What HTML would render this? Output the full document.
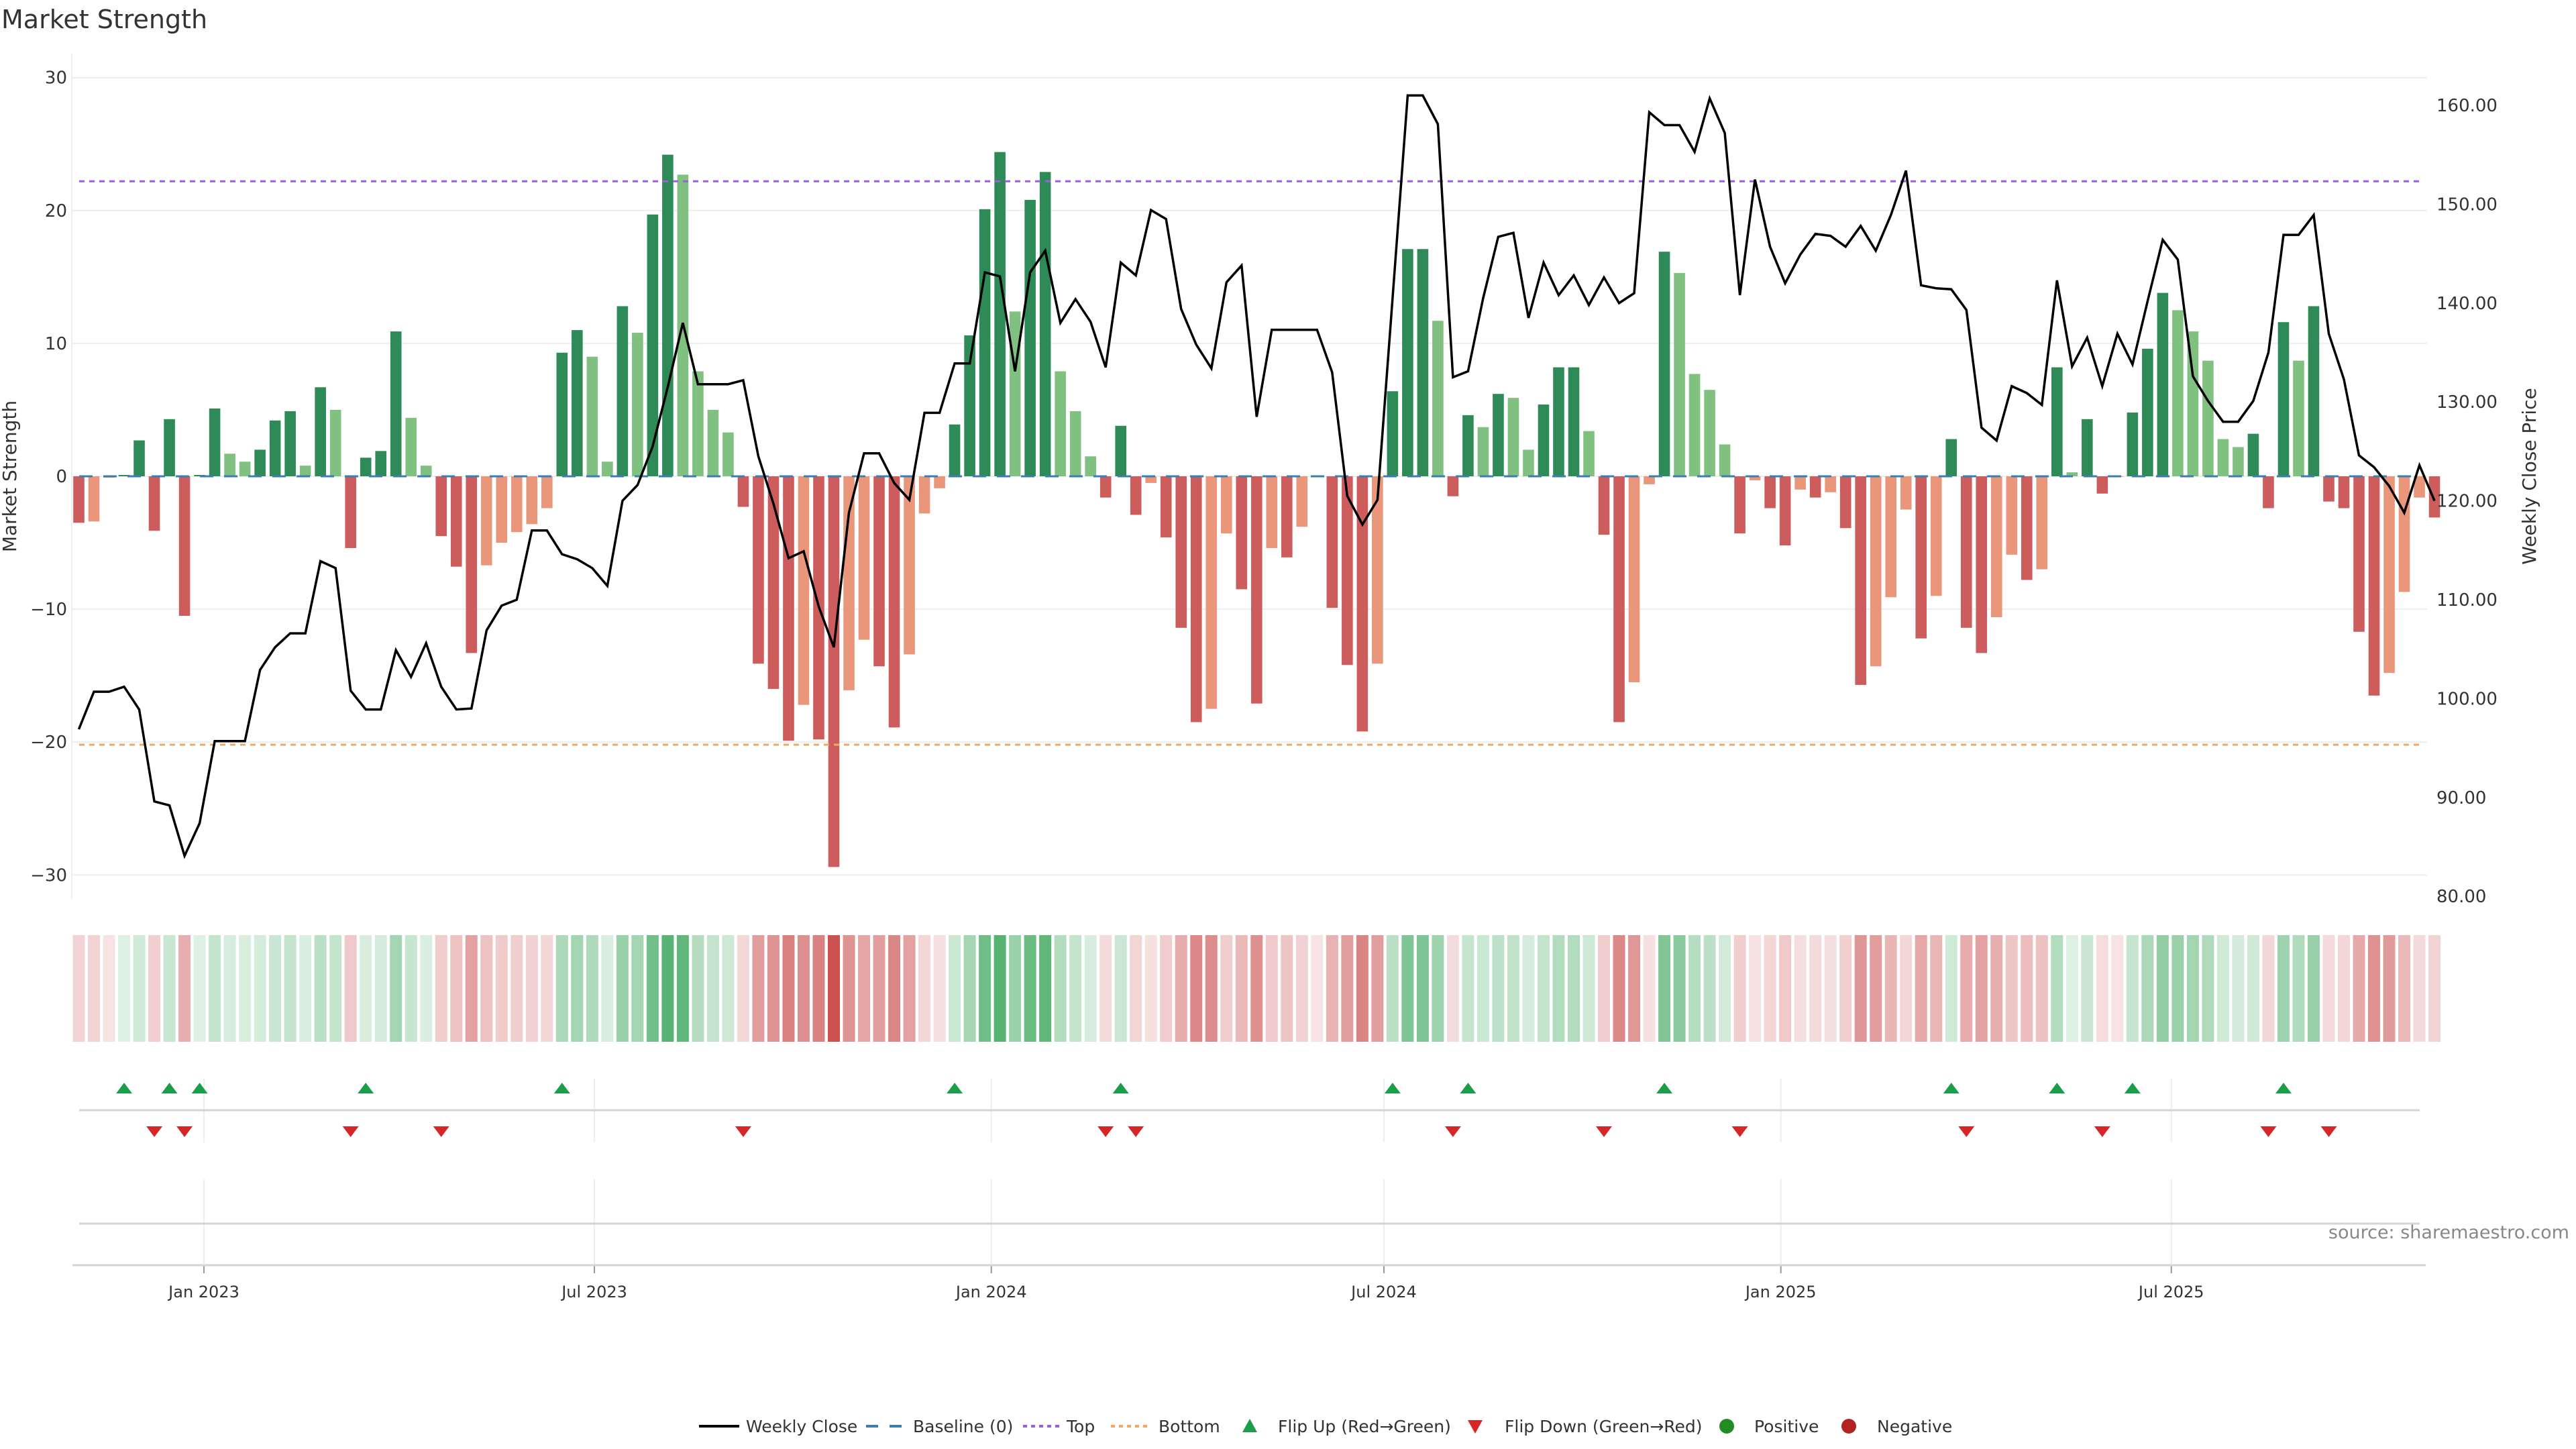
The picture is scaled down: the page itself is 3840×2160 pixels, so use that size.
<!DOCTYPE html>
<html><head><meta charset="utf-8"><title>Market Strength</title>
<style>html,body{margin:0;padding:0;background:#fff;}svg{display:block;font-family:"DejaVu Sans","Liberation Sans",sans-serif;}</style>
</head><body>
<svg id="chart" xmlns="http://www.w3.org/2000/svg" width="3840" height="2160" viewBox="0 0 3840 2160">
<rect width="3840" height="2160" fill="#fff"/>
<text x="2" y="42" font-size="38" fill="#333">Market Strength</text>
<g id="grid"></g><g id="heat"></g><g id="events"></g><g id="bars"></g><g id="lines"></g><g id="axes"></g>
<text transform="translate(24,710) rotate(-90)" text-anchor="middle" font-size="28" fill="#333">Market Strength</text>
<text transform="translate(3780,710) rotate(-90)" text-anchor="middle" font-size="28" fill="#333">Weekly Close Price</text>
<text x="3830" y="1846" text-anchor="end" font-size="27" fill="#888">source: sharemaestro.com</text>
<g id="legend"></g>
</svg>
<script>
const strength = [-3.5,-3.4,-0.1,0.1,2.7,-4.1,4.3,-10.5,0.1,5.1,1.7,1.1,2.0,4.2,4.9,0.8,6.7,5.0,-5.4,1.4,1.9,10.9,4.4,0.8,-4.5,-6.8,-13.3,-6.7,-5.0,-4.2,-3.6,-2.4,9.3,11.0,9.0,1.1,12.8,10.8,19.7,24.2,22.7,7.9,5.0,3.3,-2.3,-14.1,-16.0,-19.9,-17.2,-19.8,-29.4,-16.1,-12.3,-14.3,-18.9,-13.4,-2.8,-0.9,3.9,10.6,20.1,24.4,12.4,20.8,22.9,7.9,4.9,1.5,-1.6,3.8,-2.9,-0.5,-4.6,-11.4,-18.5,-17.5,-4.3,-8.5,-17.1,-5.4,-6.1,-3.8,-0.05,-9.9,-14.2,-19.2,-14.1,6.4,17.1,17.1,11.7,-1.5,4.6,3.7,6.2,5.9,2.0,5.4,8.2,8.2,3.4,-4.4,-18.5,-15.5,-0.6,16.9,15.3,7.7,6.5,2.4,-4.3,-0.3,-2.4,-5.2,-1.0,-1.6,-1.2,-3.9,-15.7,-14.3,-9.1,-2.5,-12.2,-9.0,2.8,-11.4,-13.3,-10.6,-5.9,-7.8,-7.0,8.2,0.3,4.3,-1.3,-0.05,4.8,9.6,13.8,12.5,10.9,8.7,2.8,2.2,3.2,-2.4,11.6,8.7,12.8,-1.9,-2.4,-11.7,-16.5,-14.8,-8.7,-1.6,-3.1];
const closes = [96.9,100.7,100.7,101.2,98.9,89.6,89.2,84.1,87.4,95.7,95.7,95.7,102.9,105.2,106.6,106.6,113.9,113.2,100.8,98.9,98.9,104.9,102.2,105.6,101.2,98.9,99.0,106.9,109.4,110.0,117.0,117.0,114.6,114.1,113.2,111.4,120.0,121.6,125.5,131.5,138.0,131.8,131.8,131.8,132.2,124.5,119.7,114.2,114.9,109.3,105.2,118.8,124.8,124.8,121.8,120.1,128.9,128.9,133.9,133.9,143.1,142.7,133.1,143.1,145.3,138.0,140.4,138.1,133.5,144.1,142.8,149.4,148.5,139.4,135.8,133.4,142.1,143.8,128.5,137.3,137.3,137.3,137.3,133.0,120.5,117.6,120.1,140.5,161.0,161.0,158.1,132.5,133.1,140.5,146.7,147.1,138.5,144.1,140.8,142.8,139.8,142.6,140.0,141.0,159.3,158.0,158.0,155.3,160.7,157.2,140.8,152.5,145.7,142.0,144.9,147.0,146.8,145.7,147.8,145.3,148.9,153.4,141.8,141.5,141.4,139.3,127.4,126.1,131.6,130.9,129.7,142.3,133.6,136.5,131.6,136.9,133.8,140.2,146.4,144.4,132.6,130.1,128.0,128.0,130.1,135.0,146.9,146.9,148.9,136.9,132.3,124.6,123.4,121.5,118.8,123.6,120.0];
const leftTicks = [30,20,10,0,-10,-20,-30];
const rightTicks = [160,150,140,130,120,110,100,90,80];
const topLevel = 22.2;
const bottomLevel = -20.2;
const monthLabels = ["Jan 2023","Jul 2023","Jan 2024","Jul 2024","Jan 2025","Jul 2025"];
const monthDates = ["2023-01-01","2023-07-01","2024-01-01","2024-07-01","2025-01-01","2025-07-01"];
const startDate = "2022-11-04";

const NS="http://www.w3.org/2000/svg";
function mk(tag,attrs,parent){const e=document.createElementNS(NS,tag);for(const k in attrs)e.setAttribute(k,attrs[k]);parent.appendChild(e);return e;}
const X0=117.5, STEP=22.51, PL=107, PR=3618;
const xb=i=>X0+i*STEP;
const yL=v=>710-v*19.81;
const yR=p=>157+(160-p)*14.74;
const d0=new Date(startDate+"T00:00:00Z");
const xd=s=>X0+((new Date(s+"T00:00:00Z")-d0)/86400000)/7*STEP;

const gridG=document.getElementById('grid');
leftTicks.forEach(t=>{const l=mk('line',{x1:PL,x2:PR,y1:yL(t),y2:yL(t),stroke:'#eceef0','stroke-width':2},gridG);

});
const axesG=document.getElementById('axes');
const la=mk('line',{x1:PL,x2:PL,y1:80,y2:1340,stroke:'#eceef0','stroke-width':2},axesG);


leftTicks.forEach(t=>{const tx=mk('text',{x:100,y:yL(t)+9,'text-anchor':'end','font-size':26,fill:'#333'},axesG);tx.textContent=t<0?'\u2212'+Math.abs(t):String(t);

});
rightTicks.forEach(t=>{const tx=mk('text',{x:3632,y:yR(t)+9,'font-size':26,fill:'#333'},axesG);tx.textContent=t.toFixed(2);

});

const heatG=document.getElementById('heat');
strength.forEach((v,i)=>{const a=Math.min(1,0.15+0.8*Math.abs(v)/30);
const c=v>0?`rgba(46,160,80,${a})`:`rgba(200,70,70,${a})`;
const r=mk('rect',{x:xb(i)-9,y:1394,width:18,height:159,fill:c},heatG);

});

const evG=document.getElementById('events');
monthDates.forEach((d,k)=>{const x=xd(d);
const g1=mk('line',{x1:x,x2:x,y1:1608,y2:1703,stroke:'#eceef0','stroke-width':2},evG);


const g2=mk('line',{x1:x,x2:x,y1:1758,y2:1886,stroke:'#eceef0','stroke-width':2},evG);


const tk=mk('line',{x1:x,x2:x,y1:1886,y2:1898,stroke:'#999','stroke-width':2},evG);


const tl=mk('text',{x:x,y:1934,'text-anchor':'middle','font-size':24,fill:'#333'},evG);tl.textContent=monthLabels[k];

});
const e1=mk('line',{x1:118,x2:3607,y1:1655,y2:1655,stroke:'#d4d4d4','stroke-width':3},evG);


const e2=mk('line',{x1:118,x2:3607,y1:1824,y2:1824,stroke:'#d4d4d4','stroke-width':3},evG);


const e3=mk('line',{x1:108,x2:3616,y1:1886,y2:1886,stroke:'#d4d4d4','stroke-width':3},evG);


strength.forEach((v,i)=>{if(i===0)return;const p=strength[i-1];const x=xb(i);
if(v>0&&p<=0){const t=mk('path',{d:`M${x-12},1630 L${x+12},1630 L${x},1614 Z`,fill:'#1a9e4a'},evG);

}
if(v<0&&p>=0){const t=mk('path',{d:`M${x-12},1679 L${x+12},1679 L${x},1695 Z`,fill:'#d62728'},evG);

}});

const barsG=document.getElementById('bars');
strength.forEach((v,i)=>{const p=i>0?strength[i-1]:0;let c;
if(v>=0)c=(v>=p)?'#2e8b57':'#80c080';else c=(i===0||v<=p)?'#cd5c5c':'#e9967a';
const y=Math.min(yL(0),yL(v)),h=Math.abs(yL(v)-yL(0));
const r=mk('rect',{x:xb(i)-8.3,y:y,width:16.6,height:h,fill:c},barsG);

});

const lnG=document.getElementById('lines');
const baseLn=mk('line',{x1:118,x2:3607,y1:yL(0),y2:yL(0),stroke:'#3b7fb0','stroke-width':3,'stroke-dasharray':'20 16'},lnG);


const topLn=mk('line',{x1:118,x2:3607,y1:yL(topLevel),y2:yL(topLevel),stroke:'#9b5fe0','stroke-width':3,'stroke-dasharray':'8 7'},lnG);


const botLn=mk('line',{x1:118,x2:3607,y1:yL(bottomLevel),y2:yL(bottomLevel),stroke:'#f0a868','stroke-width':3,'stroke-dasharray':'8 7'},lnG);


const pts=closes.map((c,i)=>xb(i).toFixed(1)+','+yR(c).toFixed(1)).join(' ');
const pl=mk('polyline',{points:pts,fill:'none',stroke:'#000','stroke-width':3.5,'stroke-linejoin':'miter'},lnG);



const lg=document.getElementById('legend');const LY=2126;
function ltext(x,str,name){const t=mk('text',{x:x,y:LY+9,'font-size':25,fill:'#333'},lg);t.textContent=str;

}
let sw;
sw=mk('line',{x1:1042,x2:1102,y1:LY,y2:LY,stroke:'#000','stroke-width':4},lg);


ltext(1112,'Weekly Close','legend-weekly-close');
sw=mk('line',{x1:1291,x2:1344,y1:LY,y2:LY,stroke:'#3b7fb0','stroke-width':4,'stroke-dasharray':'18 17'},lg);


ltext(1361,'Baseline (0)','legend-baseline');
sw=mk('line',{x1:1525,x2:1580,y1:LY,y2:LY,stroke:'#9b5fe0','stroke-width':4,'stroke-dasharray':'6 6'},lg);


ltext(1590,'Top','legend-top');
sw=mk('line',{x1:1656,x2:1710,y1:LY,y2:LY,stroke:'#f0a868','stroke-width':4,'stroke-dasharray':'6 6'},lg);


ltext(1727,'Bottom','legend-bottom');
sw=mk('path',{d:`M1852,${LY+9} L1874,${LY+9} L1863,${LY-11} Z`,fill:'#1a9e4a'},lg);


ltext(1905,'Flip Up (Red\u2192Green)','legend-flip-up');
sw=mk('path',{d:`M2188,${LY-9} L2210,${LY-9} L2199,${LY+11} Z`,fill:'#d62728'},lg);


ltext(2243,'Flip Down (Green\u2192Red)','legend-flip-down');
sw=mk('circle',{cx:2574,cy:LY,r:11,fill:'#228b22'},lg);


ltext(2615,'Positive','legend-positive');
sw=mk('circle',{cx:2756,cy:LY,r:11,fill:'#b22222'},lg);


ltext(2798,'Negative','legend-negative');
</script>
</body></html>
